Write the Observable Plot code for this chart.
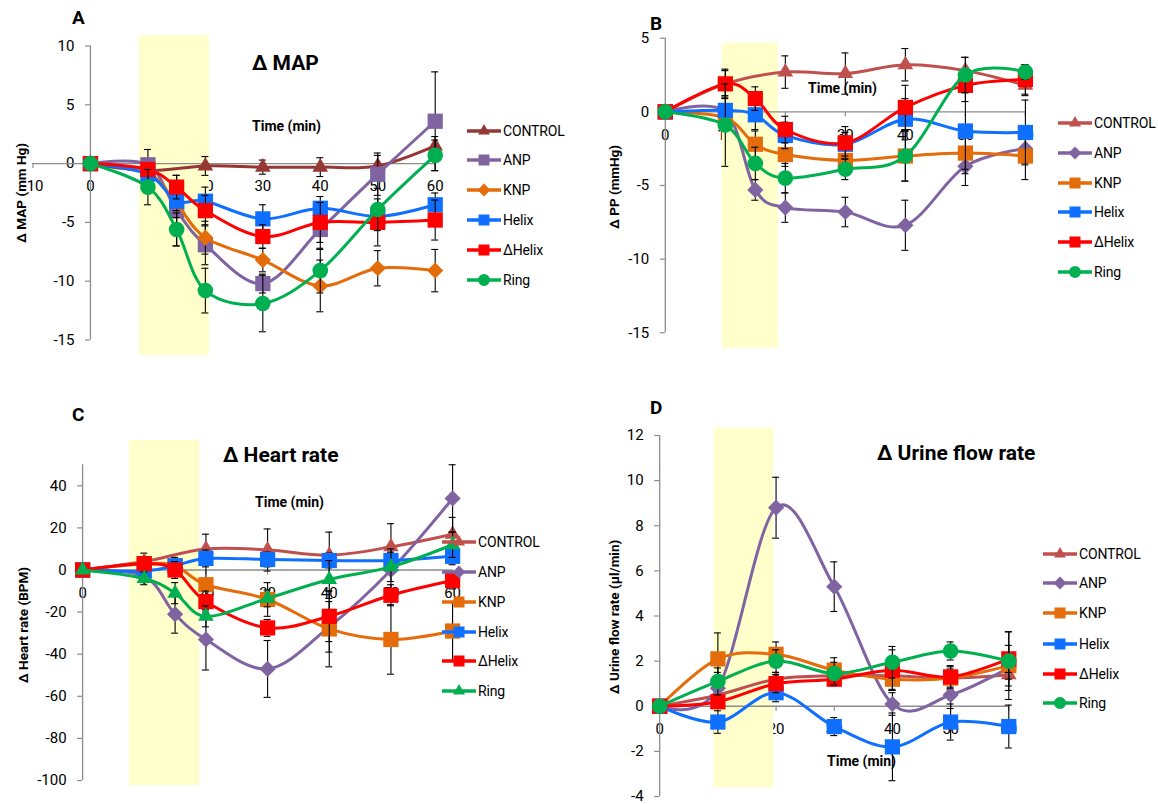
<!DOCTYPE html>
<html>
<head>
<meta charset="utf-8">
<script src="https://cdn.jsdelivr.net/npm/d3@7"></script>
<script src="https://cdn.jsdelivr.net/npm/@observablehq/plot@0.6"></script>
<style>
  html, body { margin: 0; padding: 0; background: #fff; }
  #page { position: relative; width: 1158px; height: 804px; overflow: hidden; font-family: Roboto, "Liberation Sans", sans-serif; }
  .abs { position: absolute; white-space: nowrap; }
</style>
</head>
<body>
<div id="page"></div>
<script>
// ---------------- DATA ----------------
const seriesNames = ["CONTROL", "ANP", "KNP", "Helix", "ΔHelix", "Ring"];
const timesABC = [0, 10, 15, 20, 30, 40, 50, 60];
const timesD = [0, 10, 20, 30, 40, 50, 60];

// Panel A: Δ MAP (mm Hg)
const mapControl = [0, -0.6, null, -0.2, -0.3, -0.3, -0.2, 1.5];
const mapANP     = [0, -0.1, -4.0, -6.9, -10.2, -5.6, -0.9, 3.6];
const mapKNP     = [0, -0.8, -3.4, -6.3, -8.2, -10.4, -8.9, -9.1];
const mapHelix   = [0, -0.9, -3.2, -3.2, -4.7, -3.8, -4.5, -3.5];
const mapDHelix  = [0, -0.5, -2.0, -4.0, -6.2, -5.0, -5.0, -4.8];
const mapRing    = [0, -2.0, -5.6, -10.8, -11.9, -9.1, -3.9, 0.7];
const mapControlErr = [0, 0.6, null, 0.8, 0.6, 0.8, 0.9, 0.8];
const mapANPErr     = [0, 1.3, 3.0, 1.7, 0.8, 1.7, 1.8, 4.2];
const mapKNPErr     = [0, 0.6, 1.2, 1.4, 1.0, 2.2, 1.5, 1.8];
const mapHelixErr   = [0, 0.5, 0.8, 1.2, 1.2, 1.0, 1.0, 1.0];
const mapDHelixErr  = [0, 0.5, 1.0, 1.3, 1.0, 1.7, 2.0, 1.7];
const mapRingErr    = [0, 1.5, 1.4, 1.9, 2.4, 1.9, 1.8, 1.3];

// Panel B: Δ PP (mmHg)
const ppControl = [0, 1.9, null, 2.7, 2.6, 3.2, 2.8, 1.8];
const ppANP     = [0, 0.0, -5.3, -6.5, -6.8, -7.7, -3.7, -2.5];
const ppKNP     = [0, -0.4, -2.2, -2.9, -3.3, -3.0, -2.8, -3.0];
const ppHelix   = [0, 0.1, -0.2, -1.6, -2.2, -0.5, -1.3, -1.4];
const ppDHelix  = [0, 1.9, 0.9, -1.2, -2.1, 0.3, 1.8, 2.2];
const ppRing    = [0, -0.9, -3.5, -4.5, -3.9, -3.0, 2.5, 2.7];
const ppControlErr = [0, 0.9, null, 1.1, 1.4, 1.1, 0.9, 0.7];
const ppANPErr     = [0, 0.5, 0.7, 1.0, 1.0, 1.7, 1.3, 1.0];
const ppKNPErr     = [0, 0.5, 0.9, 0.8, 0.9, 1.7, 1.4, 1.6];
const ppHelixErr   = [0, 1.0, 1.0, 0.9, 0.8, 1.4, 2.6, 2.2];
const ppDHelixErr  = [0, 1.0, 0.8, 0.9, 1.1, 1.5, 1.1, 1.0];
const ppRingErr    = [0, 2.8, 1.1, 1.0, 0.7, 1.7, 1.2, 0.5];

// Panel C: Δ Heart rate (BPM)
const hrControl = [0, 4, null, 10, 9.5, 7, 11, 17];
const hrANP     = [0, -3, -21, -33, -47, -27, 0, 34];
const hrKNP     = [0, 3, 2, -7, -14, -28, -33, -29];
const hrHelix   = [0, -0.5, 2, 5.5, 5, 4.5, 4.5, 6.5];
const hrDHelix  = [0, 3, 0, -15, -27.5, -22, -12, -5];
const hrRing    = [0, -4, -11, -22, -13.5, -4.5, 1.5, 12];
const hrControlErr = [0, 4, null, 7, 10, 11, 11, 8];
const hrANPErr     = [0, 3, 9, 14.5, 13.5, 12, 10, 16];
const hrKNPErr     = [0, 3, 4, 12, 8, 18, 16.5, 14];
const hrHelixErr   = [0, 3, 3, 4, 3.5, 3.5, 3.5, 4];
const hrDHelixErr  = [0, 3, 4, 5, 4, 12, 5, 4];
const hrRingErr    = [0, 3, 5, 5, 4, 9, 7, 6];

// Panel D: Δ Urine flow rate (µl/min)
const ufControl = [0, 0.5, 1.2, 1.35, 1.35, 1.25, 1.4];
const ufANP     = [0, 0.8, 8.8, 5.3, 0.1, 0.5, 1.7];
const ufKNP     = [0, 2.1, 2.3, 1.6, 1.2, 1.25, 1.8];
const ufHelix   = [0, -0.7, 0.6, -0.9, -1.8, -0.7, -0.9];
const ufDHelix  = [0, 0.2, 1.0, 1.2, 1.6, 1.3, 2.1];
const ufRing    = [0, 1.1, 2.0, 1.45, 1.95, 2.45, 2.0];
const ufControlErr = [0, 0.2, 0.3, 0.4, 0.6, 0.5, 0.5];
const ufANPErr     = [0, 0.7, 1.35, 1.1, 0.5, 0.6, 0.5];
const ufKNPErr     = [0, 1.15, 0.55, 0.55, 0.5, 0.4, 1.5];
const ufHelixErr   = [0, 0.5, 0.4, 0.4, 1.5, 0.8, 0.95];
const ufDHelixErr  = [0, 0.3, 0.4, 0.3, 0.9, 0.5, 0.6];
const ufRingErr    = [0, 0.6, 0.5, 0.5, 0.7, 0.4, 1.3];

// infusion period (shaded), x from / to
const infusionA = [8.5, 20.7];
const infusionB = [9.5, 18.9];
const infusionC = [7.6, 19.0];
const infusionD = [9.3, 19.6];

const ticksX_A = [-10, 0, 10, 20, 30, 40, 50, 60];
const ticksX = [0, 10, 20, 30, 40, 50, 60];
const ticksY_A = [-15, -10, -5, 0, 5, 10];
const ticksY_B = [-15, -10, -5, 0, 5];
const ticksY_C = [-100, -80, -60, -40, -20, 0, 20, 40];
const ticksY_D = [-4, -2, 0, 2, 4, 6, 8, 10, 12];

// ---------------- STYLES ----------------
const GRAY = "#8c8c8c";
const cBlue = "#0F6FFF", cRed = "#FF0000", cGreen = "#00B050", cPurple = "#8064A2", cOrange = "#E46C0A";
const colorsA = ["#953735", cPurple, cOrange, cBlue, cRed, cGreen];
const colorsBCD = ["#C0504D", cPurple, cOrange, cBlue, cRed, cGreen];
const symbolsA = ["triangle", "square", "diamond2", "square", "square", "circle"];
const symbolsB = ["triangle", "diamond2", "square", "square", "square", "circle"];
const symbolsC = ["triangle", "diamond2", "square", "square", "square", "triangle"];
const symbolsD = symbolsB;
const symbolR = {triangle: 5.8, square: 8.6, diamond2: 7.3, circle: 7.8};

const page = document.getElementById("page");

function addText(str, x, y, opts = {}) {
  const d = document.createElement("div");
  d.className = "abs";
  d.textContent = str;
  d.style.left = x + "px";
  d.style.top = y + "px";
  d.style.fontSize = (opts.size || 14) + "px";
  d.style.fontWeight = opts.bold ? "700" : "400";
  d.style.lineHeight = "1";
  d.style.transform = opts.rotate ? "translate(-50%,-50%) rotate(-90deg)" : "translateY(-50%)";
  page.appendChild(d);
}

function symbolPath(name, size) {
  const types = {triangle: d3.symbolTriangle, square: d3.symbolSquare, circle: d3.symbolCircle, diamond2: d3.symbolDiamond2 || d3.symbolDiamond};
  return d3.symbol(types[name], size)();
}

function addLegend(left, rowsY, colors, symbols) {
  const legendSize = {triangle: 62, square: 121, diamond2: 105, circle: 113};
  seriesNames.forEach((name, i) => {
    const row = document.createElement("div");
    row.className = "abs";
    row.style.left = left + "px";
    row.style.top = (rowsY[i] - 10) + "px";
    row.style.height = "20px";
    row.style.display = "flex";
    row.style.alignItems = "center";
    row.innerHTML =
      `<svg width="34" height="16" style="overflow:visible"><line x1="0" x2="34" y1="8" y2="8" stroke="${colors[i]}" stroke-width="3.4"/>` +
      `<path transform="translate(17,8)" d="${symbolPath(symbols[i], legendSize[symbols[i]])}" fill="${colors[i]}"/></svg>` +
      `<span style="font-size:14px;letter-spacing:-0.15px;margin-left:2px">${name}</span>`;
    page.appendChild(row);
  });
}

function panel(cfg) {
  const [xd0, xd1] = cfg.xDomain, [xr0, xr1] = cfg.xRange;
  const [yd0, yd1] = cfg.yDomain, [yr0, yr1] = cfg.yRange;
  const kx = (xr1 - xr0) / (xd1 - xd0);
  const ky = (yr0 - yr1) / (yd1 - yd0);
  const px0 = xr0 + (0 - xd0) * kx;
  const py0 = yr0 - (0 - yd0) * ky;
  const cap = 3.5 / kx;

  const marks = [
    Plot.rect([cfg.band], {x1: d => d[0], x2: d => d[1], y1: cfg.bandY[0], y2: cfg.bandY[1], fill: "#FFFFCC"}),
    Plot.ruleY([0], {x1: cfg.axisFrom, x2: cfg.axisTo, stroke: GRAY, strokeWidth: 1.3}),
    Plot.ruleX([0], {y1: yd0, y2: cfg.yTop, stroke: GRAY, strokeWidth: 1.3}),
    Plot.ruleY(cfg.yTicks, {y: d => d, x1: 0, x2: -5 / kx, stroke: GRAY, strokeWidth: 1.2}),
    Plot.ruleX(cfg.xTicks.filter(t => t !== 0), {x: d => d, y1: 0, y2: -5 / ky, stroke: GRAY, strokeWidth: 1.2})
  ];

  cfg.values.forEach((vals, i) => {
    const rows = [];
    vals.forEach((v, j) => { if (v != null) rows.push({x: cfg.times[j], y: v, e: cfg.errs[i][j] || 0}); });
    const eb = rows.filter(r => r.e > 0);
    marks.push(
      Plot.ruleX(eb, {x: "x", y1: d => d.y - d.e, y2: d => d.y + d.e, stroke: "#000", strokeWidth: 1.1}),
      Plot.ruleY(eb, {y: d => d.y + d.e, x1: d => d.x - cap, x2: d => d.x + cap, stroke: "#000", strokeWidth: 1.1}),
      Plot.ruleY(eb, {y: d => d.y - d.e, x1: d => d.x - cap, x2: d => d.x + cap, stroke: "#000", strokeWidth: 1.1}),
      Plot.line(rows, {x: "x", y: "y", stroke: cfg.colors[i], strokeWidth: 3, curve: "cardinal"}),
      Plot.dot(rows, {x: "x", y: "y", symbol: cfg.symbols[i], r: symbolR[cfg.symbols[i]], fill: cfg.colors[i], stroke: "none"})
    );
  });

  const fmt = d => String(d);
  const svg = Plot.plot({
    width: cfg.w,
    height: cfg.h,
    marginLeft: px0,
    marginRight: 0,
    marginTop: 0,
    marginBottom: cfg.h - py0,
    x: {domain: cfg.xDomain, range: cfg.xRange, ticks: cfg.xTicks, tickSize: 0, tickPadding: 17, tickFormat: fmt, label: null},
    y: {domain: cfg.yDomain, range: cfg.yRange, ticks: cfg.yTicks, tickSize: 0, tickPadding: 16, tickFormat: fmt, label: null},
    style: {background: "transparent", fontFamily: "Roboto, sans-serif", fontSize: "15px", color: "#000", overflow: "visible"},
    marks
  });
  const wrap = document.createElement("div");
  wrap.className = "abs";
  wrap.style.left = cfg.left + "px";
  wrap.style.top = cfg.top + "px";
  wrap.appendChild(svg);
  page.appendChild(wrap);
}

// ---------------- PANELS ----------------
panel({
  left: 0, top: 0, w: 580, h: 370,
  xDomain: [-10, 60], xRange: [32.5, 434.7], yDomain: [-15, 10], yRange: [339.5, 45.5],
  xTicks: ticksX_A, yTicks: ticksY_A, axisFrom: -10, axisTo: 60, yTop: 10,
  band: infusionA, bandY: [10.9, -16.3],
  times: timesABC,
  values: [mapControl, mapANP, mapKNP, mapHelix, mapDHelix, mapRing],
  errs: [mapControlErr, mapANPErr, mapKNPErr, mapHelixErr, mapDHelixErr, mapRingErr],
  colors: colorsA, symbols: symbolsA
});
panel({
  left: 580, top: 0, w: 578, h: 370,
  xDomain: [0, 60], xRange: [84.8, 444.9], yDomain: [-15, 5], yRange: [332.3, 37.7],
  xTicks: ticksX, yTicks: ticksY_B, axisFrom: 0, axisTo: 60, yTop: 5,
  band: infusionB, bandY: [4.66, -16.04],
  times: timesABC,
  values: [ppControl, ppANP, ppKNP, ppHelix, ppDHelix, ppRing],
  errs: [ppControlErr, ppANPErr, ppKNPErr, ppHelixErr, ppDHelixErr, ppRingErr],
  colors: colorsBCD, symbols: symbolsB
});
panel({
  left: 0, top: 400, w: 580, h: 404,
  xDomain: [0, 60], xRange: [82.1, 452.1], yDomain: [-100, 50], yRange: [380, 64.25],
  xTicks: ticksX, yTicks: ticksY_C, axisFrom: 0, axisTo: 60, yTop: 50,
  band: infusionC, bandY: [61.5, -102.4],
  times: timesABC,
  values: [hrControl, hrANP, hrKNP, hrHelix, hrDHelix, hrRing],
  errs: [hrControlErr, hrANPErr, hrKNPErr, hrHelixErr, hrDHelixErr, hrRingErr],
  colors: colorsBCD, symbols: symbolsC
});
panel({
  left: 580, top: 400, w: 578, h: 404,
  xDomain: [0, 60], xRange: [79.2, 428.3], yDomain: [-4, 12], yRange: [396, 35],
  xTicks: ticksX, yTicks: ticksY_D, axisFrom: 0, axisTo: 60, yTop: 12,
  band: infusionD, bandY: [12.34, -3.61],
  times: timesD,
  values: [ufControl, ufANP, ufKNP, ufHelix, ufDHelix, ufRing],
  errs: [ufControlErr, ufANPErr, ufKNPErr, ufHelixErr, ufDHelixErr, ufRingErr],
  colors: colorsBCD, symbols: symbolsD
});

// ---------------- TEXT ----------------
addText("A", 72, 17, {size: 19, bold: true});
addText("B", 650, 23, {size: 19, bold: true});
addText("C", 72, 414, {size: 19, bold: true});
addText("D", 650, 407, {size: 19, bold: true});

addText("Δ MAP", 252, 63, {size: 21, bold: true});
addText("Δ Heart rate", 223, 455, {size: 21, bold: true});
addText("Δ Urine flow rate", 877, 453, {size: 21, bold: true});

addText("Time (min)", 252, 126, {size: 14, bold: true});
addText("Time (min)", 808, 88, {size: 14, bold: true});
addText("Time (min)", 255, 502, {size: 14, bold: true});
addText("Time (min)", 827, 761, {size: 14, bold: true});

addText("Δ MAP (mm Hg)", 22, 193, {size: 13.5, bold: true, rotate: true});
addText("Δ PP (mmHg)", 615, 187, {size: 13.5, bold: true, rotate: true});
addText("Δ Heart rate (BPM)", 24, 625, {size: 13.5, bold: true, rotate: true});
addText("Δ Urine flow rate (µl/min)", 615, 617, {size: 13.5, bold: true, rotate: true});

addLegend(467, [131, 160, 190, 220, 250, 280], colorsA, symbolsA);
addLegend(1058, [123, 153, 183, 212, 242, 272], colorsBCD, symbolsB);
addLegend(442, [542, 572, 602, 632, 661, 691], colorsBCD, symbolsC);
addLegend(1043, [554, 583, 613, 644, 674, 703], colorsBCD, symbolsD);
</script>
</body>
</html>
